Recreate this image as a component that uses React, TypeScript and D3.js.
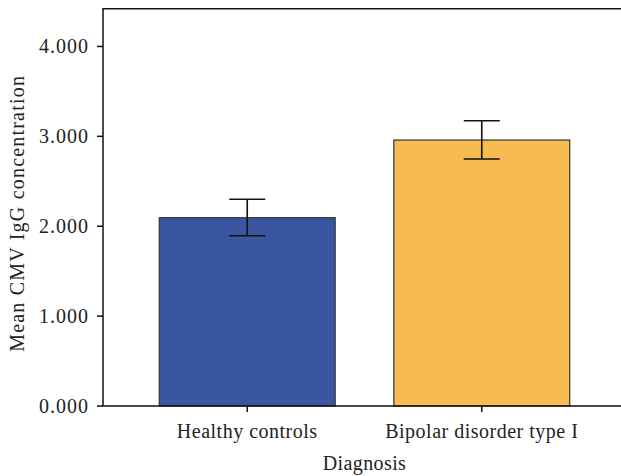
import React from "react";
import * as d3 from "d3";

const categories = ["Healthy controls", "Bipolar disorder type I"];
const means = [2.095, 2.959];
const lowerCI = [1.894, 2.748];
const upperCI = [2.3, 3.174];
const barColors = ["#3A56A0", "#F7BB52"];
const yTicks = [0, 1, 2, 3, 4];
const yMax = 4.42;

const W = 621;
const H = 476;
const margin = { top: 8.7, right: -5, bottom: 70, left: 103 };
const font = "'Liberation Serif', 'Times New Roman', serif";

export default function App() {
  const x0 = margin.left;
  const x1 = W - margin.right;
  const y0 = H - margin.bottom;
  const y1 = margin.top;

  const xScale = d3
    .scaleBand<string>()
    .domain(categories)
    .range([x0, x1])
    .paddingInner(0.25)
    .paddingOuter(0.24);
  const yScale = d3.scaleLinear().domain([0, yMax]).range([y0, y1]);
  const fmt = d3.format(".3f");
  const capHalf = 18;

  return (
    <svg
      width={W}
      height={H}
      style={{ position: "absolute", left: 0, top: 0, background: "#fff" }}
    >
      {/* bars */}
      {categories.map((c, i) => (
        <rect
          key={c}
          x={xScale(c)}
          y={yScale(means[i])}
          width={xScale.bandwidth()}
          height={yScale(0) - yScale(means[i])}
          fill={barColors[i]}
          stroke="#333"
          strokeWidth={1.2}
        />
      ))}

      {/* error bars */}
      {categories.map((c, i) => {
        const cx = (xScale(c) as number) + xScale.bandwidth() / 2;
        return (
          <g key={"err" + c} stroke="#111" strokeWidth={1.6}>
            <line x1={cx} x2={cx} y1={yScale(lowerCI[i])} y2={yScale(upperCI[i])} />
            <line x1={cx - capHalf} x2={cx + capHalf} y1={yScale(upperCI[i])} y2={yScale(upperCI[i])} />
            <line x1={cx - capHalf} x2={cx + capHalf} y1={yScale(lowerCI[i])} y2={yScale(lowerCI[i])} />
          </g>
        );
      })}

      {/* frame */}
      <path
        d={`M${x0},${y1}H${x1}V${y0}H${x0}Z`}
        fill="none"
        stroke="#111"
        strokeWidth={1.5}
      />

      {/* y axis */}
      {yTicks.map((t) => (
        <g key={t} transform={`translate(0,${yScale(t)})`}>
          <line x1={x0 - 6} x2={x0} stroke="#111" strokeWidth={1.5} />
          <text
            x={x0 - 14}
            dy="0.34em"
            textAnchor="end"
            fontFamily={font}
            fontSize={20}
            letterSpacing={1}
            fill="#222"
          >
            {fmt(t)}
          </text>
        </g>
      ))}

      {/* x axis */}
      {categories.map((c) => {
        const cx = (xScale(c) as number) + xScale.bandwidth() / 2;
        return (
          <g key={"x" + c} transform={`translate(${cx},${y0})`}>
            <line y1={0} y2={6} stroke="#111" strokeWidth={1.5} />
            <text
              y={32}
              textAnchor="middle"
              fontFamily={font}
              fontSize={20}
              letterSpacing={0.5}
              fill="#222"
            >
              {c}
            </text>
          </g>
        );
      })}

      <text
        x={(x0 + x1) / 2}
        y={470}
        textAnchor="middle"
        fontFamily={font}
        fontSize={20}
        letterSpacing={0.4}
        fill="#222"
      >
        Diagnosis
      </text>
      <text
        transform={`translate(24,${(y0 + y1) / 2 + 6}) rotate(-90)`}
        textAnchor="middle"
        fontFamily={font}
        fontSize={20}
        letterSpacing={1.2}
        fill="#222"
      >
        Mean CMV IgG concentration
      </text>
    </svg>
  );
}
